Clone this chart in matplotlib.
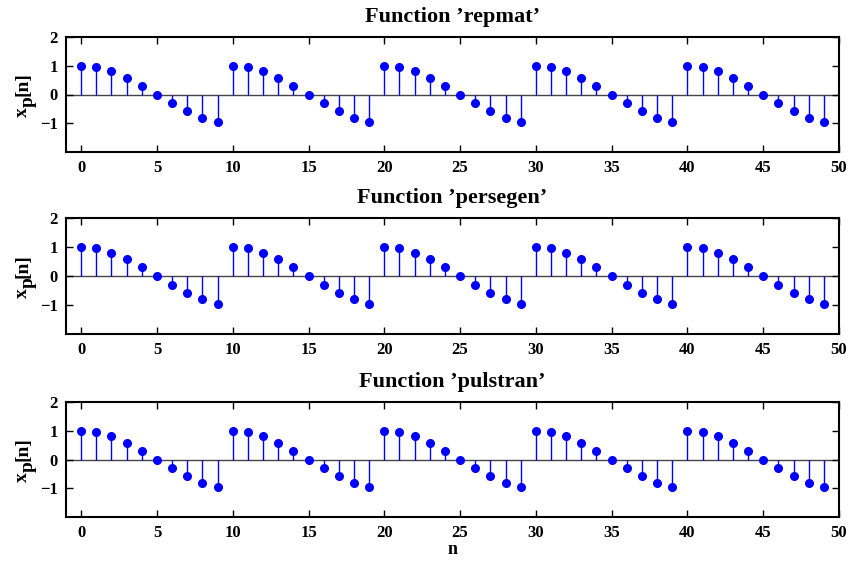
import matplotlib
matplotlib.use("Agg")
import matplotlib.pyplot as plt

plt.rcParams['font.family'] = ['Liberation Serif', 'DejaVu Serif']
plt.rcParams['font.weight'] = 'bold'

n = list(range(50))
xp = [1.00, 0.95, 0.81, 0.59, 0.31, 0.00, -0.31, -0.59, -0.81, -0.95,
      1.00, 0.95, 0.81, 0.59, 0.31, 0.00, -0.31, -0.59, -0.81, -0.95,
      1.00, 0.95, 0.81, 0.59, 0.31, 0.00, -0.31, -0.59, -0.81, -0.95,
      1.00, 0.95, 0.81, 0.59, 0.31, 0.00, -0.31, -0.59, -0.81, -0.95,
      1.00, 0.95, 0.81, 0.59, 0.31, 0.00, -0.31, -0.59, -0.81, -0.95]
titles = ["Function \u2019repmat\u2019", "Function \u2019persegen\u2019", "Function \u2019pulstran\u2019"]
xticks = [0, 5, 10, 15, 20, 25, 30, 35, 40, 45, 50]
yticks = [-1, 0, 1, 2]
ylabel_parts = ["x", "p", "[n]"]

fig = plt.figure(figsize=(8.52, 5.61), dpi=100)
W, H = 852, 561
tops = [37, 218, 402]
bottoms = [152, 334, 517]
left, right = 66, 839
renderer = fig.canvas.get_renderer()

for i in range(3):
    ax = fig.add_axes([left / W, 1 - bottoms[i] / H, (right - left) / W, (bottoms[i] - tops[i]) / H])
    ax.axhline(0, color='#444444', lw=1.0, zorder=1)
    ml, sl, bl = ax.stem(n, xp, basefmt=' ')
    plt.setp(sl, color='blue', linewidth=1.0)
    plt.setp(ml, color='blue', markersize=5.5, markeredgecolor='blue')
    ax.set_xlim(-1, 50)
    ax.set_ylim(-2, 2)
    ax.set_xticks(xticks)
    ax.set_yticks(yticks)
    ax.tick_params(direction='in', top=True, right=True, length=5, width=1,
                   labelsize=12, pad=6)
    for lab in ax.get_xticklabels() + ax.get_yticklabels():
        lab.set_fontweight('bold')
    for sp in ax.spines.values():
        sp.set_linewidth(1.5)
    ax.set_title(titles[i], fontsize=16, fontweight='bold', pad=11)
    if i == 2:
        ax.set_xlabel('n', fontsize=13, fontweight='bold', labelpad=0)

    # y label x_p[n] composed with a full-size subscript
    fs = 14
    em = fs * 100 / 72.0
    # measure widths
    widths = []
    for part in ylabel_parts:
        t = fig.text(0, 0, part, fontsize=fs, fontweight='bold')
        widths.append(t.get_window_extent(renderer).width)
        t.remove()
    total = sum(widths)
    yc = (tops[i] + bottoms[i]) / 2.0
    ystart = yc + total / 2.0
    base_x = 27
    offsets = [0, 6, 0]
    cur = ystart
    for part, w, off in zip(ylabel_parts, widths, offsets):
        fig.text((base_x + off) / W, 1 - cur / H, part, fontsize=fs, fontweight='bold',
                 rotation=90, rotation_mode='anchor', ha='left', va='baseline')
        cur -= w

fig.savefig('out.png', dpi=100)
